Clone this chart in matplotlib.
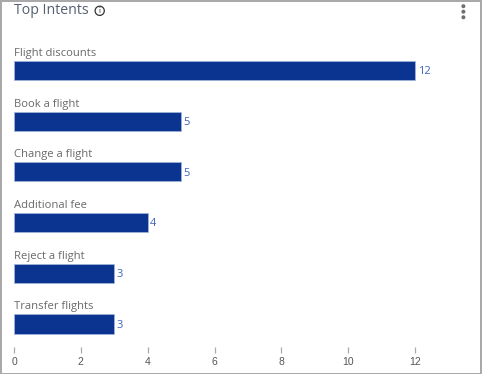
import matplotlib
matplotlib.use("Agg")
import matplotlib.pyplot as plt
from matplotlib.patches import Rectangle, Circle

categories = ["Flight discounts", "Book a flight", "Change a flight",
              "Additional fee", "Reject a flight", "Transfer flights"]
values = [12, 5, 5, 4, 3, 3]
x_ticks = [0, 2, 4, 6, 8, 10, 12]
title = "Top Intents"

W, H = 482, 374
fig = plt.figure(figsize=(W / 100, H / 100), dpi=100, facecolor="white")

def fx(px):
    return px / W

def fy(py):
    return 1 - py / H

left, right, top, bottom = 14, 470, 45.15, 347
ax = fig.add_axes([fx(left), fy(bottom), fx(right - left), (bottom - top) / H])
ax.set_facecolor("none")
ax.barh(range(len(values)), values, height=0.375, color="#0a3490",
        edgecolor="#a5b6de", linewidth=0.5)
ax.set_xlim(0, (right - left) / 33.42)
ax.set_ylim((bottom - 70.5) / 50.7, -0.5)
ax.set_yticks([])
ax.set_xticks(x_ticks)
ax.tick_params(axis="x", length=4.3, width=0.9, color="#aaaaaa", labelcolor="#555555",
               labelsize=7.5, pad=2.6)
for label in ax.get_xticklabels():
    label.set_family("Liberation Sans")
for s in ax.spines.values():
    s.set_visible(False)

for i, (c, v) in enumerate(zip(categories, values)):
    ax.annotate(c, (0, i), xytext=(0, 17.0 * 0.72), textcoords="offset points",
                ha="left", va="center", fontsize=8.1, family="Open Sans", color="#6a6a6a")
    ax.annotate(str(v), (v, i), xytext=(1.8, -1.0), textcoords="offset points",
                ha="left", va="center", fontsize=8, family="Open Sans", color="#4065bb")

# title and info icon
fig.text(fx(14), fy(10), title, ha="left", va="center", fontsize=10.2, family="Open Sans",
         color="#556070")
ax_ov = fig.add_axes([0, 0, 1, 1], facecolor="none")
ax_ov.set_xlim(0, W)
ax_ov.set_ylim(H, 0)
ax_ov.axis("off")
ax_ov.add_patch(Circle((99.7, 10.8), 4.6, fill=False, edgecolor="#333333", linewidth=0.9))
ax_ov.text(99.7, 10.8, "i", ha="center", va="center", fontsize=5.5, family="Lato", color="#333333")
for y in (6.2, 11.7, 17.3):
    ax_ov.add_patch(Circle((463.4, y), 2.0, color="#6f6f6f", linewidth=0))

# card border
for (bx, by, bw, bh) in [(0, 0, W, 1.5), (0, 372.6, W, 1.4), (0, 0, 1.5, H), (480.2, 0, 1.8, H)]:
    ax_ov.add_patch(Rectangle((bx, by), bw, bh, color="#a9a9a9", linewidth=0))

fig.savefig("out.png", dpi=100)
